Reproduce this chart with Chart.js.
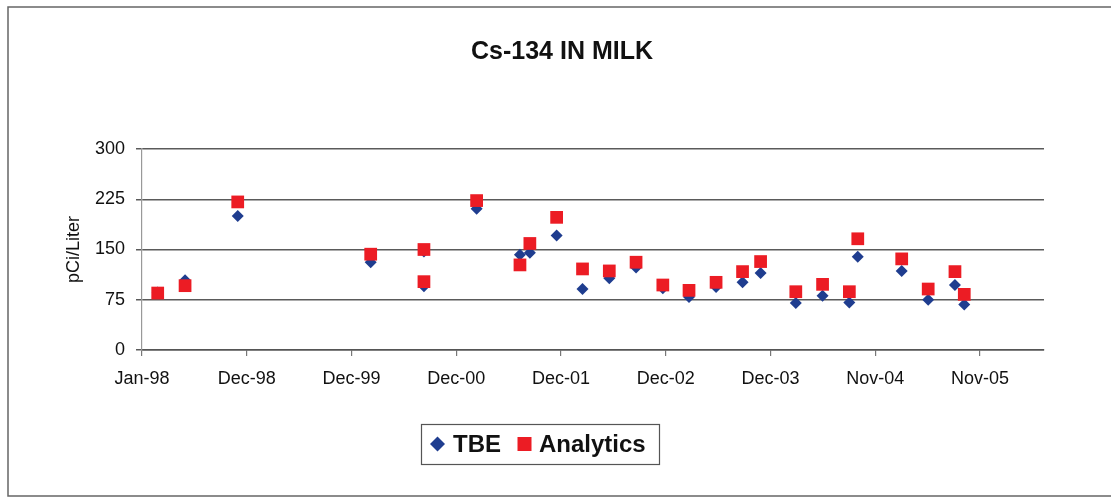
<!DOCTYPE html>
<html>
<head>
<meta charset="utf-8">
<script src="https://cdn.jsdelivr.net/npm/chart.js@4/dist/chart.umd.min.js"></script>
<style>
  html, body { margin: 0; padding: 0; background: #fff; }
</style>
</head>
<body>
<canvas id="chart" width="1111" height="500"></canvas>
<script>
// sample dates (quarterly spikes) and results in pCi/Liter
const sampleDates = [
  '1998-02-24', '1998-05-29', '1998-11-26', '2000-02-26', '2000-08-27', '2000-08-27',
  '2001-02-24', '2001-07-23', '2001-08-26', '2001-11-26', '2002-02-23', '2002-05-26',
  '2002-08-26', '2002-11-26', '2003-02-24', '2003-05-28', '2003-08-27', '2003-10-28',
  '2004-02-26', '2004-05-28', '2004-08-28', '2004-09-26', '2005-02-24', '2005-05-26',
  '2005-08-26', '2005-09-27'
];
const tbeValues = [
  86, 104, 200, 131, 147, 95, 211, 142, 145, 171, 91, 107,
  123, 92, 79, 94, 101, 115, 70, 81, 71, 139, 118, 75, 97, 68
];
const analyticsValues = [
  85, 96, 221, 143, 150, 102, 223, 127, 159, 198, 121, 118,
  131, 97, 89, 101, 117, 132, 87, 98, 87, 166, 136, 91, 117, 83
];
const yTicks = [0, 75, 150, 225, 300];
const monthNames = ['Jan', 'Feb', 'Mar', 'Apr', 'May', 'Jun', 'Jul', 'Aug', 'Sep', 'Oct', 'Nov', 'Dec'];

const FONT = 'Liberation Sans, Arial, sans-serif';
const BLUE = '#1f3d8f';
const RED = '#ec1c24';

// x axis runs in days from Jan 1 1998, Excel style major unit of 360 days
const startDay = Date.UTC(1998, 0, 1);
function dayOf(s) {
  const p = s.split('-');
  return (Date.UTC(+p[0], +p[1] - 1, +p[2]) - startDay) / 864e5;
}
function dayLabel(d) {
  const dt = new Date(startDay + d * 864e5);
  return monthNames[dt.getUTCMonth()] + '-' + String(dt.getUTCFullYear()).slice(2);
}

const sampleDays = sampleDates.map(dayOf);
const tbePoints = sampleDays.map((d, i) => ({ x: d, y: tbeValues[i] }));
const analyticsPoints = sampleDays.map((d, i) => ({ x: d, y: analyticsValues[i] }));

// title, legend box and outer frame like the Excel chart
const framePlugin = {
  id: 'frame',
  afterDraw(chart) {
    const ctx = chart.ctx;
    ctx.save();
    ctx.strokeStyle = '#666';
    ctx.lineWidth = 1.5;
    ctx.beginPath();
    ctx.moveTo(1111, 7);
    ctx.lineTo(8, 7);
    ctx.lineTo(8, 496);
    ctx.lineTo(1111, 496);
    ctx.stroke();

    ctx.fillStyle = '#111';
    ctx.textBaseline = 'middle';
    ctx.textAlign = 'center';
    ctx.font = 'bold 25px ' + FONT;
    ctx.fillText('Cs-134 IN MILK', 562, 52);

    // legend
    ctx.lineWidth = 1.2;
    ctx.strokeStyle = '#555';
    ctx.strokeRect(421.5, 424.5, 238, 40);
    ctx.fillStyle = BLUE;
    ctx.beginPath();
    ctx.moveTo(437.5, 436.5);
    ctx.lineTo(445, 444);
    ctx.lineTo(437.5, 451.5);
    ctx.lineTo(430, 444);
    ctx.closePath();
    ctx.fill();
    ctx.fillStyle = RED;
    ctx.fillRect(517.5, 437, 14, 14);
    ctx.fillStyle = '#111';
    ctx.textAlign = 'left';
    ctx.font = 'bold 24px ' + FONT;
    ctx.fillText('TBE', 453, 445);
    ctx.fillText('Analytics', 539, 445);
    ctx.restore();
  }
};

new Chart(document.getElementById('chart'), {
  type: 'scatter',
  data: {
    datasets: [
      {
        label: 'TBE',
        data: tbePoints,
        pointStyle: 'rectRot',
        pointRadius: 6,
        pointHoverRadius: 6,
        backgroundColor: BLUE,
        borderWidth: 0,
        order: 2
      },
      {
        label: 'Analytics',
        data: analyticsPoints,
        pointStyle: 'rect',
        pointRadius: 9,
        pointHoverRadius: 9,
        backgroundColor: RED,
        borderWidth: 0,
        order: 1
      }
    ]
  },
  options: {
    responsive: false,
    animation: false,
    layout: { padding: { top: 149, right: 67, left: 0, bottom: 0 } },
    plugins: {
      legend: { display: false },
      title: { display: false },
      tooltip: { enabled: false }
    },
    scales: {
      x: {
        type: 'linear',
        min: 0,
        max: 3100,
        afterFit: s => { s.height = 150; },
        ticks: {
          stepSize: 360,
          includeBounds: false,
          autoSkip: false,
          maxRotation: 0,
          padding: 12,
          color: '#111',
          font: { family: FONT, size: 18 },
          callback: v => dayLabel(v)
        },
        grid: { drawOnChartArea: false, drawTicks: true, tickLength: 6, color: '#777', lineWidth: 1.2 },
        border: { display: true, color: '#555', width: 1.5 }
      },
      y: {
        min: 0,
        max: 300,
        afterFit: s => { s.width = 142; },
        afterBuildTicks: s => { s.ticks = yTicks.map(v => ({ value: v })); },
        ticks: {
          padding: 11,
          color: '#111',
          font: { family: FONT, size: 18 }
        },
        grid: { color: '#5a5a5a', lineWidth: 1.5, tickLength: 6 },
        border: { display: true, color: '#999', width: 1.2 },
        title: {
          display: true,
          text: 'pCi/Liter',
          color: '#111',
          font: { family: FONT, size: 18 },
          padding: { top: 63, bottom: 0 }
        }
      }
    }
  },
  plugins: [framePlugin]
});
</script>
</body>
</html>
